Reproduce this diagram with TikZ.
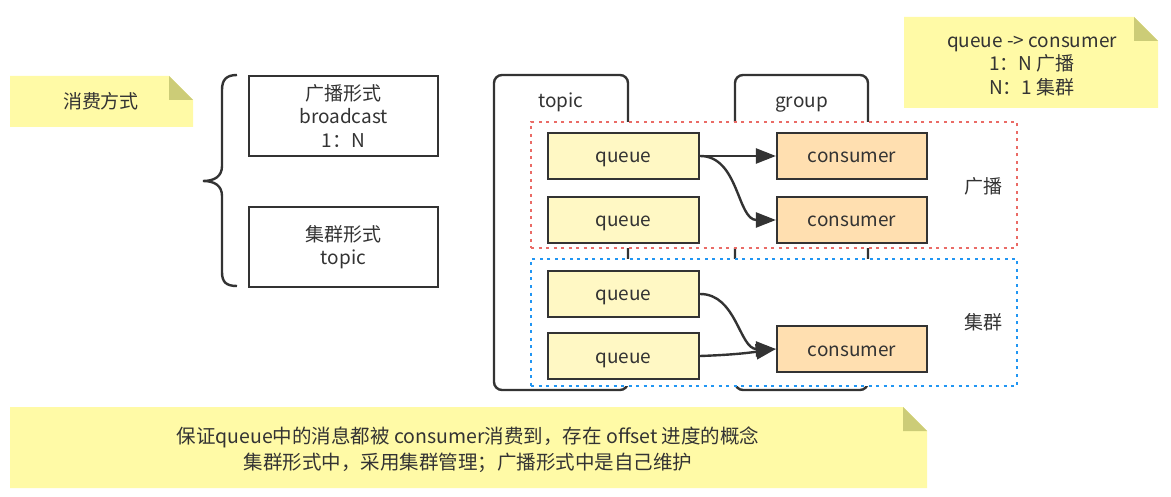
\documentclass[tikz,border=0pt]{standalone}
\usepackage{fontspec}
\setmainfont{Noto Sans CJK SC}
\usetikzlibrary{arrows.meta}
\definecolor{ink}{HTML}{333333}
\definecolor{notefill}{HTML}{FFFAA6}
\definecolor{foldfill}{HTML}{CCCC77}
\definecolor{qfill}{HTML}{FFF8C4}
\definecolor{cfill}{HTML}{FFDFB0}
\definecolor{redline}{HTML}{EA6B66}
\definecolor{blueline}{HTML}{2196F3}
\tikzset{
  txt/.style={text=ink, inner sep=0pt, align=center},
  oneline/.style={text height=15pt, text depth=1pt},
  modebox/.style={draw=ink, line width=2.2pt, fill=white, minimum width=189pt, minimum height=80pt, inner sep=0pt, align=center, text=ink, font=\fontsize{19}{23.5}\selectfont},
  container/.style={draw=ink, line width=2.4pt, rounded corners=8pt, minimum width=134pt, minimum height=315pt, inner sep=0pt},
  region/.style={draw=#1, fill=white, line width=2.8pt, dash pattern=on 3pt off 4.5pt, minimum width=486pt, minimum height=126pt, inner sep=0pt},
  queuebox/.style={draw=ink, line width=2.2pt, fill=qfill, minimum width=151pt, minimum height=46pt, inner sep=0pt, text=ink, oneline},
  consbox/.style={draw=ink, line width=2.2pt, fill=cfill, minimum width=150pt, minimum height=46pt, inner sep=0pt, text=ink, oneline},
  arr/.style={draw=ink, line width=2.4pt, -{Triangle[length=20pt,width=15pt]}},
}
\begin{document}
\begin{tikzpicture}[x=1pt,y=-1pt, font=\fontsize{19}{23.5}\selectfont]
\useasboundingbox (0,0) rectangle (1171,497);

% note: 消费方式
\fill[notefill] (10,76) -- (169,76) -- (193,100) -- (193,127) -- (10,127) -- cycle;
\fill[foldfill] (169,76) -- (169,100) -- (193,100) -- cycle;
\node[txt, oneline] (way) at (101,102) {消费方式};

% brace
\draw[ink, line width=2.4pt] (237,75) .. controls (226,75) and (222,80) .. (222,90) -- (222,166)
  .. controls (222,176) and (215,181) .. (203,181)
  .. controls (215,181) and (222,186) .. (222,196) -- (222,272)
  .. controls (222,282) and (226,286) .. (237,286);

% mode boxes
\node[modebox] (bc) at (343.5,116) {广播形式\\broadcast\\1：N};
\node[modebox] (cl) at (343.5,247) {集群形式\\topic};

% containers
\node[container] (topic) at (561,232.5) {};
\node[container, minimum width=133pt] (group) at (801.5,232.5) {};
\node[txt, oneline] (topiclbl) at (561,101) {topic};
\node[txt, oneline] (grouplbl) at (801.5,101) {group};

% regions
\node[region=redline] (bregion) at (774,185) {};
\node[region=blueline, minimum height=127pt] (cregion) at (774,322.5) {};
\node[txt, oneline] (bclbl) at (983,187) {广播};
\node[txt, oneline] (cllbl) at (983,323) {集群};

% queues and consumers
\node[queuebox] (q1) at (623.5,156) {queue};
\node[queuebox] (q2) at (623.5,220) {queue};
\node[queuebox] (q3) at (623.5,294) {queue};
\node[queuebox] (q4) at (623.5,356) {queue};
\node[consbox] (c1) at (852,156) {consumer};
\node[consbox] (c2) at (852,220) {consumer};
\node[consbox] (c3) at (852,349) {consumer};

% arrows
\draw[arr] (q1.east) -- (c1.west);
\draw[arr] (q1.east) to[out=0,in=180] (c2.west);
\draw[arr] (q3.east) to[out=0,in=180] (c3.west);
\draw[arr] (q4.east) to[out=2,in=188] (c3.west);

% note top right
\fill[notefill] (904,17) -- (1134,17) -- (1158,41) -- (1158,108) -- (904,108) -- cycle;
\fill[foldfill] (1134,17) -- (1134,41) -- (1158,41) -- cycle;
\node[txt, font=\fontsize{19}{23.5}\selectfont] (rule) at (1032,66) {queue -> consumer\\1：N 广播\\N：1 集群};

% note bottom
\fill[notefill] (10,407) -- (903,407) -- (927,431) -- (927,488) -- (10,488) -- cycle;
\fill[foldfill] (903,407) -- (903,431) -- (927,431) -- cycle;
\node[txt, font=\fontsize{19.5}{26}\selectfont] (offset) at (468,449.5) {保证queue中的消息都被 consumer消费到，存在 offset 进度的概念\\集群形式中，采用集群管理；广播形式中是自己维护};
\end{tikzpicture}
\end{document}
